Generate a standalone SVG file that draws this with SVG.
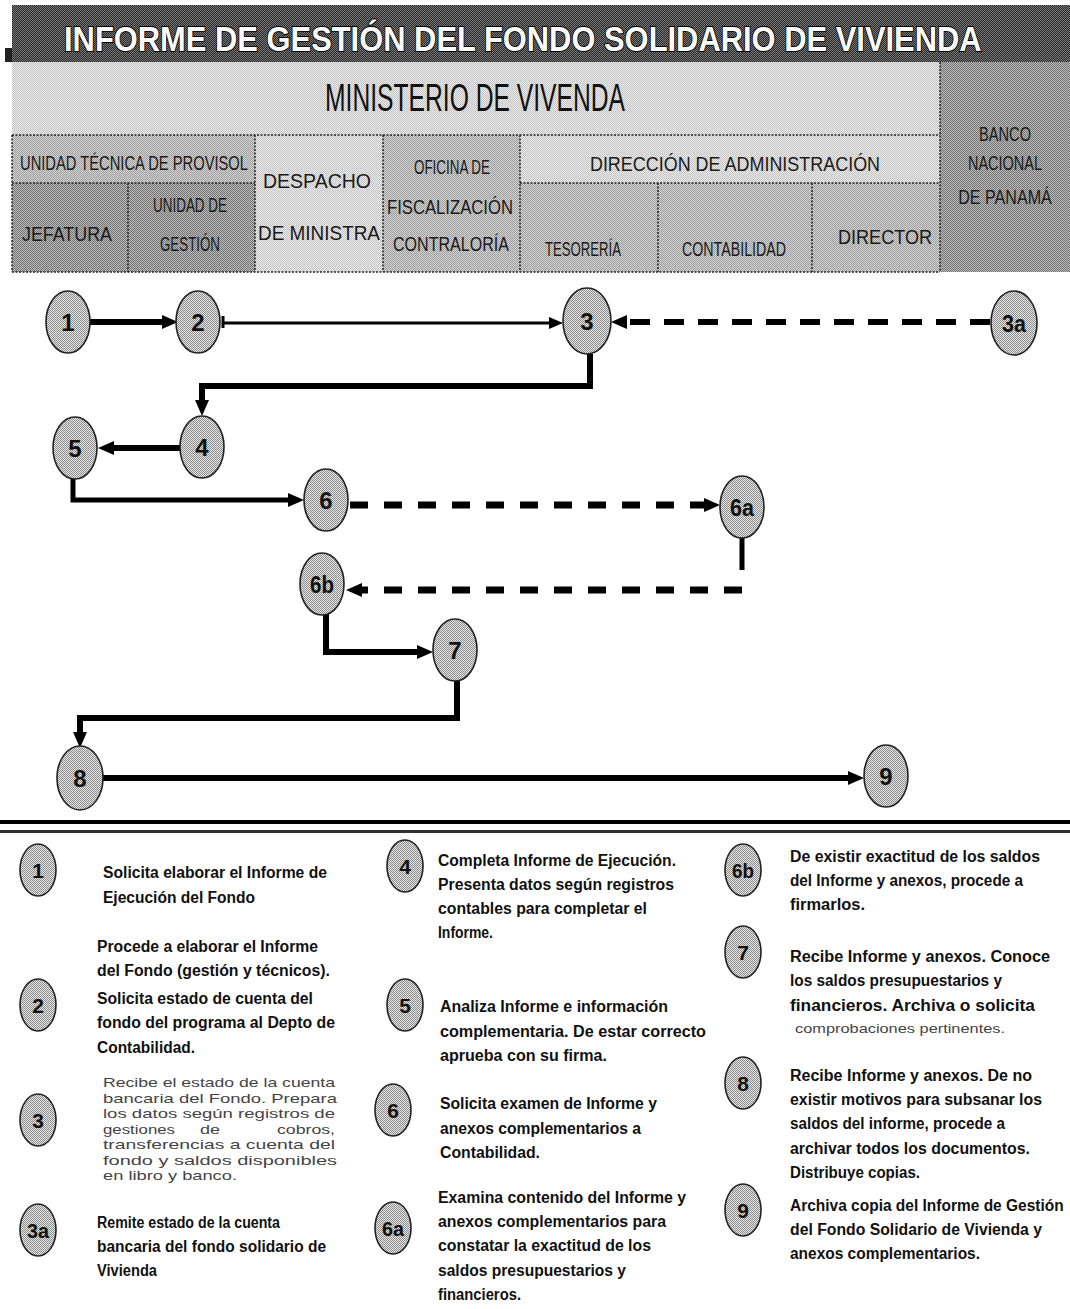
<svg xmlns="http://www.w3.org/2000/svg" width="1070" height="1309" viewBox="0 0 1070 1309">
<defs>
  <pattern id="pHead" width="2" height="2" patternUnits="userSpaceOnUse"><rect width="2" height="2" fill="#2a2a2a"/><rect width="1" height="1" fill="#777"/><rect x="1" y="1" width="1" height="1" fill="#777"/></pattern>
  <pattern id="pMin" width="2" height="2" patternUnits="userSpaceOnUse"><rect width="2" height="2" fill="#ececec"/><rect width="1" height="1" fill="#c2c2c2"/><rect x="1" y="1" width="1" height="1" fill="#c2c2c2"/></pattern>
  <pattern id="pMid" width="2" height="2" patternUnits="userSpaceOnUse"><rect width="2" height="2" fill="#d4d4d4"/><rect width="1" height="1" fill="#9c9c9c"/><rect x="1" y="1" width="1" height="1" fill="#9c9c9c"/></pattern>
  <pattern id="pDark" width="2" height="2" patternUnits="userSpaceOnUse"><rect width="2" height="2" fill="#bababa"/><rect width="1" height="1" fill="#747474"/><rect x="1" y="1" width="1" height="1" fill="#747474"/></pattern>
  <pattern id="pNode" width="2" height="2" patternUnits="userSpaceOnUse"><rect width="2" height="2" fill="#e6e6e6"/><rect width="1" height="1" fill="#8c8c8c"/><rect x="1" y="1" width="1" height="1" fill="#8c8c8c"/></pattern>
  <marker id="ah" viewBox="0 0 16 14" refX="1" refY="7" markerWidth="16" markerHeight="14" markerUnits="userSpaceOnUse" orient="auto"><path d="M0,0 L16,7 L0,14 z" fill="#000"/></marker>
  <marker id="ahs" viewBox="0 0 14 12" refX="1" refY="6" markerWidth="14" markerHeight="12" markerUnits="userSpaceOnUse" orient="auto"><path d="M0,0 L14,6 L0,12 z" fill="#000"/></marker>
</defs>
<style>
  .f{font-family:"Liberation Sans",Arial,sans-serif}
  .hd{font-family:"Liberation Sans",Arial,sans-serif;font-size:20px;fill:#1a1a1a;text-anchor:middle}
  .lg{font-family:"Liberation Sans",Arial,sans-serif;font-weight:bold;font-size:16px;fill:#111}
  .sm{font-family:"Liberation Sans",Arial,sans-serif;font-size:13px;fill:#444}
  .node ellipse{fill:url(#pNode);stroke:#222;stroke-width:1.6}
  .num{font-family:"Liberation Sans",Arial,sans-serif;font-weight:bold;font-size:24px;fill:#111;text-anchor:middle}
  .lnum{font-family:"Liberation Sans",Arial,sans-serif;font-weight:bold;font-size:21px;fill:#111;text-anchor:middle}
  .c{fill:none;stroke:#000;stroke-linejoin:miter}
  .grid{stroke:#222;stroke-width:1.5;stroke-dasharray:2 1.5;fill:none}
</style>
<rect width="1070" height="1309" fill="#fff"/>

<!-- Header -->
<g id="header">
  <rect x="12" y="5" width="1058" height="57" fill="url(#pHead)"/>
  <rect x="5" y="48" width="7" height="14" fill="#222"/>
  <text class="f" x="0" y="0" transform="translate(64,51) scale(0.8,1)" font-size="35" font-weight="bold" fill="#fff" stroke="#000" stroke-width="1.8" paint-order="stroke" textLength="1147" lengthAdjust="spacingAndGlyphs">INFORME DE GESTIÓN DEL FONDO SOLIDARIO DE VIVIENDA</text>
</g>

<g id="lanes">
  <rect x="12" y="62" width="928" height="73" fill="url(#pMin)"/>
  <text class="f" x="0" y="0" transform="translate(325,111) scale(0.6,1)" font-size="38" fill="#111" textLength="500" lengthAdjust="spacingAndGlyphs">MINISTERIO DE VIVENDA</text>
  <rect x="940" y="62" width="130" height="210" fill="url(#pDark)"/>
  <text class="hd" x="1005" y="141" textLength="52" lengthAdjust="spacingAndGlyphs">BANCO</text>
  <text class="hd" x="1005" y="170" textLength="74" lengthAdjust="spacingAndGlyphs">NACIONAL</text>
  <text class="hd" x="0" y="0" transform="translate(1005,204) scale(0.85,1)" font-size="19" textLength="110" lengthAdjust="spacingAndGlyphs">DE PANAMÁ</text>

  <rect x="12" y="135" width="243" height="48" fill="url(#pMid)"/>
  <rect x="255" y="135" width="128" height="137" fill="url(#pMin)"/>
  <rect x="383" y="135" width="137" height="137" fill="url(#pMid)"/>
  <rect x="520" y="135" width="420" height="48" fill="url(#pMin)"/>
  <rect x="12" y="183" width="243" height="89" fill="url(#pDark)"/>
  <rect x="520" y="183" width="420" height="89" fill="url(#pMid)"/>

  <text class="hd" x="0" y="0" transform="translate(134,170) scale(0.76,1)" font-size="18" textLength="300" lengthAdjust="spacingAndGlyphs">UNIDAD TÉCNICA DE PROVISOL</text>
  <text class="hd" x="317" y="188" textLength="108" lengthAdjust="spacingAndGlyphs" font-size="19">DESPACHO</text>
  <text class="hd" x="319" y="240" textLength="122" lengthAdjust="spacingAndGlyphs">DE MINISTRA</text>
  <text class="hd" x="452" y="174" textLength="76" lengthAdjust="spacingAndGlyphs" font-size="17">OFICINA DE</text>
  <text class="hd" x="450" y="214" textLength="126" lengthAdjust="spacingAndGlyphs">FISCALIZACIÓN</text>
  <text class="hd" x="451" y="251" textLength="116" lengthAdjust="spacingAndGlyphs">CONTRALORÍA</text>
  <text class="hd" x="0" y="0" transform="translate(735,171) scale(0.78,1)" font-size="22" textLength="372" lengthAdjust="spacingAndGlyphs">DIRECCIÓN DE ADMINISTRACIÓN</text>
  <text class="hd" x="67" y="241" textLength="90" lengthAdjust="spacingAndGlyphs">JEFATURA</text>
  <text class="hd" x="190" y="212" textLength="74" lengthAdjust="spacingAndGlyphs">UNIDAD DE</text>
  <text class="hd" x="190" y="251" textLength="60" lengthAdjust="spacingAndGlyphs">GESTIÓN</text>
  <text class="hd" x="583" y="256" textLength="76" lengthAdjust="spacingAndGlyphs">TESORERÍA</text>
  <text class="hd" x="734" y="256" textLength="104" lengthAdjust="spacingAndGlyphs">CONTABILIDAD</text>
  <text class="hd" x="885" y="244" textLength="94" lengthAdjust="spacingAndGlyphs">DIRECTOR</text>

  <path class="grid" d="M12,135 H940 M12,183 H255 M520,183 H940 M12,272 H940 M12,135 V272 M128,183 V272 M255,135 V272 M383,135 V272 M520,135 V272 M658,183 V272 M812,183 V272 M940,62 V272"/>
</g>

<!-- Connectors -->
<g id="connectors">
  <path class="c" d="M90,322 H163" stroke-width="6" marker-end="url(#ah)"/>
  <path class="c" d="M223,316 V328" stroke-width="3"/>
  <path class="c" d="M223,323 H550" stroke-width="3" marker-end="url(#ahs)"/>
  <path class="c" d="M990,322 H626" stroke-width="6" stroke-dasharray="20 14" marker-end="url(#ah)"/>
  <path class="c" d="M590,354 V386 H202 V401" stroke-width="6" marker-end="url(#ah)"/>
  <path class="c" d="M180,448 H113" stroke-width="6" marker-end="url(#ah)"/>
  <path class="c" d="M73,479 V500 H289" stroke-width="5" marker-end="url(#ah)"/>
  <path class="c" d="M350,505 H705" stroke-width="7" stroke-dasharray="18 16" marker-end="url(#ah)"/>
  <path class="c" d="M742,538 V570" stroke-width="5"/>
  <path class="c" d="M742,590 H361" stroke-width="7" stroke-dasharray="18 16" marker-end="url(#ah)"/>
  <path class="c" d="M326,614 V652 H418" stroke-width="6" marker-end="url(#ah)"/>
  <path class="c" d="M457,681 V718 H80 V733" stroke-width="6" marker-end="url(#ah)"/>
  <path class="c" d="M102,778 H849" stroke-width="6" marker-end="url(#ah)"/>
</g>

<!-- Flow nodes -->
<g id="n1" class="node"><ellipse cx="68" cy="322" rx="22" ry="31"/><text class="num" x="68" y="331">1</text></g>
<g id="n2" class="node"><ellipse cx="198" cy="322" rx="22" ry="31"/><text class="num" x="198" y="331">2</text></g>
<g id="n3" class="node"><ellipse cx="587" cy="321" rx="24" ry="33"/><text class="num" x="587" y="330">3</text></g>
<g id="n3a" class="node"><ellipse cx="1014" cy="323" rx="23" ry="32"/><text class="num" x="1014" y="332" textLength="24" lengthAdjust="spacingAndGlyphs">3a</text></g>
<g id="n4" class="node"><ellipse cx="202" cy="447" rx="22" ry="31"/><text class="num" x="202" y="456">4</text></g>
<g id="n5" class="node"><ellipse cx="75" cy="448" rx="22" ry="31"/><text class="num" x="75" y="457">5</text></g>
<g id="n6" class="node"><ellipse cx="326" cy="500" rx="22" ry="31"/><text class="num" x="326" y="509">6</text></g>
<g id="n6a" class="node"><ellipse cx="742" cy="507" rx="22" ry="31"/><text class="num" x="742" y="516" textLength="24" lengthAdjust="spacingAndGlyphs">6a</text></g>
<g id="n6b" class="node"><ellipse cx="322" cy="584" rx="22" ry="31"/><text class="num" x="322" y="593" textLength="24" lengthAdjust="spacingAndGlyphs">6b</text></g>
<g id="n7" class="node"><ellipse cx="455" cy="650" rx="22" ry="31"/><text class="num" x="455" y="659">7</text></g>
<g id="n8" class="node"><ellipse cx="80" cy="778" rx="23" ry="32"/><text class="num" x="80" y="787">8</text></g>
<g id="n9" class="node"><ellipse cx="886" cy="776" rx="22" ry="31"/><text class="num" x="886" y="785">9</text></g>

<!-- Separator -->
<g id="separator">
  <rect x="0" y="820" width="1070" height="4" fill="#000"/>
  <rect x="0" y="830" width="1070" height="3" fill="#333"/>
</g>

<!-- Legend -->
<g id="legend1" class="node"><ellipse cx="38" cy="870" rx="18" ry="26"/><text class="lnum" x="38" y="878">1</text>
  <text class="lg" x="103" y="878" textLength="224" lengthAdjust="spacingAndGlyphs">Solicita elaborar el Informe de</text>
  <text class="lg" x="103" y="903" textLength="152" lengthAdjust="spacingAndGlyphs">Ejecución del Fondo</text>
</g>
<g id="legend2" class="node"><ellipse cx="38" cy="1005" rx="18" ry="26"/><text class="lnum" x="38" y="1013">2</text>
  <text class="lg" x="97" y="952" textLength="221" lengthAdjust="spacingAndGlyphs">Procede a elaborar el Informe</text>
  <text class="lg" x="97" y="976" textLength="233" lengthAdjust="spacingAndGlyphs">del Fondo (gestión y técnicos).</text>
  <text class="lg" x="97" y="1004" textLength="216" lengthAdjust="spacingAndGlyphs">Solicita estado de cuenta del</text>
  <text class="lg" x="97" y="1028" textLength="238" lengthAdjust="spacingAndGlyphs">fondo del programa al Depto de</text>
  <text class="lg" x="97" y="1053" textLength="98" lengthAdjust="spacingAndGlyphs">Contabilidad.</text>
</g>
<g id="legend3" class="node"><ellipse cx="38" cy="1120" rx="18" ry="26"/><text class="lnum" x="38" y="1128">3</text>
  <text class="sm" x="103" y="1087" textLength="232" lengthAdjust="spacingAndGlyphs">Recibe el estado de la cuenta</text>
  <text class="sm" x="103" y="1103" textLength="234" lengthAdjust="spacingAndGlyphs">bancaria del Fondo.  Prepara</text>
  <text class="sm" x="103" y="1118" textLength="232" lengthAdjust="spacingAndGlyphs">los datos según registros de</text>
  <text class="sm" x="103" y="1134" textLength="72" lengthAdjust="spacingAndGlyphs">gestiones</text>
  <text class="sm" x="200" y="1134" textLength="20" lengthAdjust="spacingAndGlyphs">de</text>
  <text class="sm" x="277" y="1134" textLength="58" lengthAdjust="spacingAndGlyphs">cobros,</text>
  <text class="sm" x="103" y="1149" textLength="232" lengthAdjust="spacingAndGlyphs">transferencias  a  cuenta  del</text>
  <text class="sm" x="103" y="1165" textLength="234" lengthAdjust="spacingAndGlyphs">fondo  y  saldos  disponibles</text>
  <text class="sm" x="103" y="1180" textLength="134" lengthAdjust="spacingAndGlyphs">en libro y banco.</text>
</g>
<g id="legend3a" class="node"><ellipse cx="38" cy="1230" rx="18" ry="26"/><text class="lnum" x="38" y="1238" textLength="22" lengthAdjust="spacingAndGlyphs">3a</text>
  <text class="lg" x="97" y="1228" textLength="183" lengthAdjust="spacingAndGlyphs">Remite estado de la cuenta</text>
  <text class="lg" x="97" y="1252" textLength="229" lengthAdjust="spacingAndGlyphs">bancaria del fondo solidario de</text>
  <text class="lg" x="97" y="1276" textLength="60" lengthAdjust="spacingAndGlyphs">Vivienda</text>
</g>
<g id="legend4" class="node"><ellipse cx="405" cy="866" rx="18" ry="26"/><text class="lnum" x="405" y="874">4</text>
  <text class="lg" x="438" y="866" textLength="238" lengthAdjust="spacingAndGlyphs">Completa Informe de Ejecución.</text>
  <text class="lg" x="438" y="890" textLength="236" lengthAdjust="spacingAndGlyphs">Presenta datos según registros</text>
  <text class="lg" x="438" y="914" textLength="209" lengthAdjust="spacingAndGlyphs">contables para completar el</text>
  <text class="lg" x="438" y="938" textLength="55" lengthAdjust="spacingAndGlyphs">Informe.</text>
</g>
<g id="legend5" class="node"><ellipse cx="405" cy="1005" rx="18" ry="26"/><text class="lnum" x="405" y="1013">5</text>
  <text class="lg" x="440" y="1012" textLength="228" lengthAdjust="spacingAndGlyphs">Analiza Informe e información</text>
  <text class="lg" x="440" y="1037" textLength="266" lengthAdjust="spacingAndGlyphs">complementaria.  De estar correcto</text>
  <text class="lg" x="440" y="1061" textLength="167" lengthAdjust="spacingAndGlyphs">aprueba con su firma.</text>
</g>
<g id="legend6" class="node"><ellipse cx="393" cy="1110" rx="18" ry="26"/><text class="lnum" x="393" y="1118">6</text>
  <text class="lg" x="440" y="1109" textLength="217" lengthAdjust="spacingAndGlyphs">Solicita examen de Informe y</text>
  <text class="lg" x="440" y="1134" textLength="201" lengthAdjust="spacingAndGlyphs">anexos complementarios a</text>
  <text class="lg" x="440" y="1158" textLength="100" lengthAdjust="spacingAndGlyphs">Contabilidad.</text>
</g>
<g id="legend6a" class="node"><ellipse cx="393" cy="1228" rx="18" ry="26"/><text class="lnum" x="393" y="1236" textLength="22" lengthAdjust="spacingAndGlyphs">6a</text>
  <text class="lg" x="438" y="1203" textLength="248" lengthAdjust="spacingAndGlyphs">Examina contenido del Informe y</text>
  <text class="lg" x="438" y="1227" textLength="228" lengthAdjust="spacingAndGlyphs">anexos complementarios para</text>
  <text class="lg" x="438" y="1251" textLength="213" lengthAdjust="spacingAndGlyphs">constatar la exactitud de los</text>
  <text class="lg" x="438" y="1276" textLength="188" lengthAdjust="spacingAndGlyphs">saldos presupuestarios y</text>
  <text class="lg" x="438" y="1300" textLength="83" lengthAdjust="spacingAndGlyphs">financieros.</text>
</g>
<g id="legend6b" class="node"><ellipse cx="743" cy="870" rx="18" ry="26"/><text class="lnum" x="743" y="878" textLength="22" lengthAdjust="spacingAndGlyphs">6b</text>
  <text class="lg" x="790" y="862" textLength="250" lengthAdjust="spacingAndGlyphs">De existir exactitud de los saldos</text>
  <text class="lg" x="790" y="886" textLength="233" lengthAdjust="spacingAndGlyphs">del Informe y anexos, procede a</text>
  <text class="lg" x="790" y="910" textLength="75" lengthAdjust="spacingAndGlyphs">firmarlos.</text>
</g>
<g id="legend7" class="node"><ellipse cx="743" cy="952" rx="18" ry="26"/><text class="lnum" x="743" y="960">7</text>
  <text class="lg" x="790" y="962" textLength="260" lengthAdjust="spacingAndGlyphs">Recibe Informe y  anexos. Conoce</text>
  <text class="lg" x="790" y="986" textLength="212" lengthAdjust="spacingAndGlyphs">los saldos presupuestarios y</text>
  <text class="lg" x="790" y="1011" textLength="245" lengthAdjust="spacingAndGlyphs">financieros.  Archiva o solicita</text>
  <text class="sm" x="795" y="1033" font-size="12" textLength="210" lengthAdjust="spacingAndGlyphs">comprobaciones pertinentes.</text>
</g>
<g id="legend8" class="node"><ellipse cx="743" cy="1083" rx="18" ry="26"/><text class="lnum" x="743" y="1091">8</text>
  <text class="lg" x="790" y="1081" textLength="242" lengthAdjust="spacingAndGlyphs">Recibe Informe y  anexos. De no</text>
  <text class="lg" x="790" y="1105" textLength="252" lengthAdjust="spacingAndGlyphs">existir motivos para subsanar los</text>
  <text class="lg" x="790" y="1129" textLength="215" lengthAdjust="spacingAndGlyphs">saldos del informe, procede a</text>
  <text class="lg" x="790" y="1154" textLength="240" lengthAdjust="spacingAndGlyphs">archivar todos los documentos.</text>
  <text class="lg" x="790" y="1178" textLength="130" lengthAdjust="spacingAndGlyphs">Distribuye copias.</text>
</g>
<g id="legend9" class="node"><ellipse cx="743" cy="1210" rx="18" ry="26"/><text class="lnum" x="743" y="1218">9</text>
  <text class="lg" x="0" y="0" transform="translate(790,1211) scale(0.88,1)" textLength="311" lengthAdjust="spacingAndGlyphs">Archiva copia del Informe de Gestión</text>
  <text class="lg" x="790" y="1235" textLength="252" lengthAdjust="spacingAndGlyphs">del Fondo Solidario de Vivienda y</text>
  <text class="lg" x="790" y="1259" textLength="190" lengthAdjust="spacingAndGlyphs">anexos complementarios.</text>
</g>
</svg>
